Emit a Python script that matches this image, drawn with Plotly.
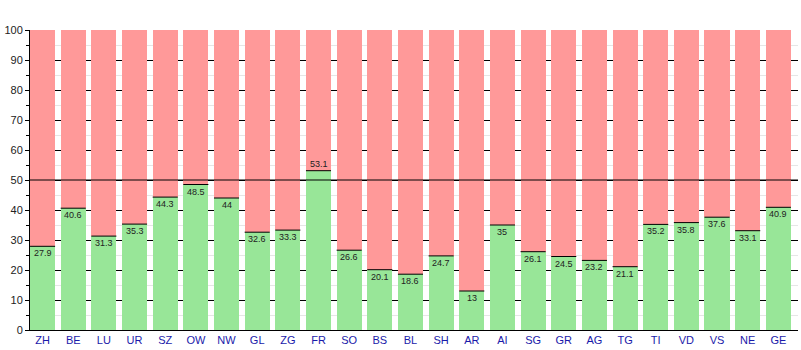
import plotly.graph_objects as go

cantons = ["ZH", "BE", "LU", "UR", "SZ", "OW", "NW", "GL", "ZG", "FR", "SO", "BS", "BL",
           "SH", "AR", "AI", "SG", "GR", "AG", "TG", "TI", "VD", "VS", "NE", "GE"]
yes_pct = [27.9, 40.6, 31.3, 35.3, 44.3, 48.5, 44, 32.6, 33.3, 53.1, 26.6, 20.1, 18.6,
           24.7, 13, 35, 26.1, 24.5, 23.2, 21.1, 35.2, 35.8, 37.6, 33.1, 40.9]
no_pct = [round(100 - v, 1) for v in yes_pct]
label_text = [str(v) for v in yes_pct]

n = len(cantons)
idx = list(range(n))
BAR_W = 0.82
centers = [i - 0.5 + BAR_W / 2 for i in idx]

green = "#98e698"
red = "#ff9999"

fig = go.Figure()
fig.add_trace(go.Bar(x=idx, y=yes_pct, width=BAR_W, offset=-0.5,
                     marker=dict(color=green, line=dict(width=0)), hoverinfo="skip"))
fig.add_trace(go.Bar(x=idx, y=no_pct, width=BAR_W, offset=-0.5,
                     marker=dict(color=red, line=dict(width=0)), hoverinfo="skip"))
# black line at the top of each green bar
fig.add_trace(go.Scatter(x=centers, y=yes_pct, mode="markers",
                         marker=dict(symbol="line-ew", size=17.9, color="black",
                                     line=dict(width=1, color="black")),
                         hoverinfo="skip"))

# value labels
for xc, v, t in zip(centers, yes_pct, label_text):
    above = v > 50
    fig.add_annotation(x=xc, y=v, xref="x", yref="y", text=t, showarrow=False,
                       yanchor="bottom" if above else "top",
                       yshift=0,
                       font=dict(family="Liberation Sans, Arial", size=9, color="#222222"))

fig.add_shape(type="line", xref="paper", x0=0, x1=1, yref="y", y0=50, y1=50,
              line=dict(color="black", width=1), layer="above")

fig.update_layout(
    width=801, height=350,
    margin=dict(l=30, r=3, t=30, b=20),
    barmode="stack",
    showlegend=False,
    plot_bgcolor="white", paper_bgcolor="white",
    font=dict(family="Liberation Sans, Arial", size=11, color="#222222"),
    xaxis=dict(range=[-0.5, n - 0.5 + 0.05], tickmode="array", tickvals=centers,
               ticktext=cantons, showgrid=False, zeroline=False,
               showline=True, linecolor="black", linewidth=1, ticks="",
               tickfont=dict(color="#1a1aaa", size=11)),
    yaxis=dict(range=[0, 100], tickmode="linear", tick0=0, dtick=10,
               showgrid=True, gridcolor="black", gridwidth=1, zeroline=False,
               showline=True, linecolor="black", linewidth=1,
               ticks="outside", ticklen=4, tickcolor="black",
               tickfont=dict(color="#222222", size=11),
               minor=dict(dtick=5, showgrid=True, gridcolor="#e6e6e6",
                          ticks="outside", ticklen=3, tickcolor="black")),
)

fig.write_html("out.html")
